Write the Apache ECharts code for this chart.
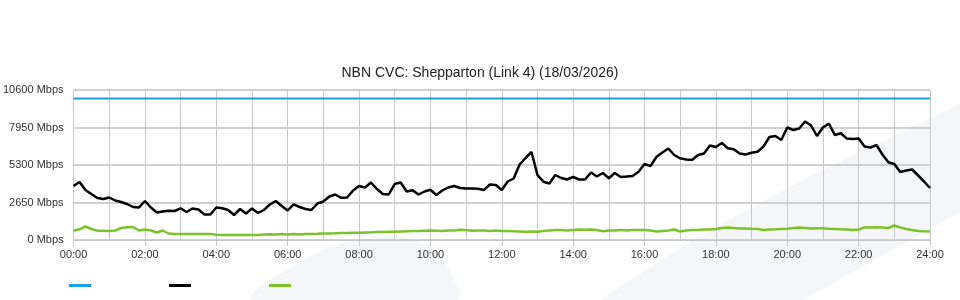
<!DOCTYPE html>
<html>
<head>
<meta charset="utf-8">
<script src="https://cdn.jsdelivr.net/npm/echarts@6/dist/echarts.min.js"></script>
<style>
html,body{margin:0;padding:0;background:#fff;}
#chart{width:960px;height:300px;}
</style>
</head>
<body>
<div id="chart"></div>
<script>
// Time categories every 10 minutes, 00:00 .. 24:00
const times = [];
for (let m = 0; m <= 1440; m += 10) {
  const h = Math.floor(m / 60), mm = m % 60;
  times.push(String(h).padStart(2, '0') + ':' + String(mm).padStart(2, '0'));
}
const yTicks = [0, 2650, 5300, 7950, 10600];
const capacity = 10000;
const download = [
  3816,4099,3533,3251,2968,2897,3003,2791,2685,2544,
  2332,2297,2756,2297,1943,2014,2071,2049,2240,1979,
  2226,2155,1802,1802,2297,2240,2120,1767,2191,1873,
  2226,1908,2120,2509,2756,2403,2085,2523,2332,2191,
  2120,2579,2721,3074,3215,2982,3003,3498,3816,3710,
  4063,3604,3251,3215,3957,4063,3427,3519,3215,3427,
  3547,3180,3498,3710,3816,3675,3639,3639,3618,3533,
  3922,3887,3533,4134,4346,5335,5795,6219,4593,4120,
  3993,4593,4381,4275,4452,4275,4275,4770,4487,4735,
  4360,4735,4452,4487,4523,4827,5371,5229,5865,6183,
  6466,6007,5773,5689,5653,6007,6113,6678,6572,6855,
  6480,6410,6113,6042,6162,6233,6607,7279,7349,7067,
  7950,7773,7879,8374,8091,7349,7950,8233,7420,7540,
  7173,7137,7173,6607,6537,6713,6042,5498,5371,4805,
  4911,4982,4558,4134,3675
];
const upload = [
  657,756,954,777,657,650,636,671,848,897,
  919,671,742,671,530,671,459,424,424,424,
  424,424,424,424,375,353,353,353,353,353,
  353,353,389,403,389,424,389,424,389,424,
  424,438,459,459,473,495,495,516,516,530,
  544,565,565,587,587,601,615,636,636,657,
  671,657,636,671,671,728,707,657,671,671,
  636,671,636,636,615,601,587,601,587,636,
  671,707,707,671,707,742,728,742,707,622,
  671,671,707,671,707,707,707,671,601,636,
  671,742,601,671,707,707,742,742,777,848,
  883,848,813,813,791,777,707,742,756,777,
  791,848,883,848,813,827,827,791,777,756,
  742,707,742,897,883,897,883,848,1025,883,
  777,707,636,615,601
];
const capacitySeries = times.map(() => capacity);

const FONT = '"Liberation Sans", Arial, sans-serif';
const chart = echarts.init(document.getElementById('chart'), null, {renderer: 'canvas'});
const mkLegend = (name, left) => ({
  data: [name], left: left, top: 284, padding: 0, icon: 'rect', itemWidth: 22, itemHeight: 3,
  formatter: () => '', selectedMode: false, textStyle: {fontSize: 1}
});
chart.setOption({
  animation: false,
  backgroundColor: '#ffffff',
  graphic: [
    {type: 'polygon', z: -10, silent: true,
     shape: {points: [[600,300],[693,240],[806,178],[960,104],[960,212],[910,240],[803,300]]},
     style: {fill: '#f5f6f8'}},
    {type: 'polygon', z: -10, silent: true,
     shape: {smooth: 0.4, points: [[253,300],[300,262],[350,242],[395,237],[428,246],[448,268],[456,300]]},
     style: {fill: '#f5f6f8'}}
  ],
  title: {
    text: 'NBN CVC: Shepparton (Link 4) (18/03/2026)',
    left: 'center', top: 61,
    textStyle: {fontFamily: FONT, fontSize: 14, fontWeight: 'normal', color: '#222'}
  },
  legend: [mkLegend('Capacity', 69), mkLegend('Download', 169), mkLegend('Upload', 269)],
  grid: {left: 70, right: 30, top: 90, bottom: 60, containLabel: false},
  xAxis: {
    type: 'category', data: times, boundaryGap: false,
    axisLine: {lineStyle: {color: '#c8c8c8', width: 1}},
    axisTick: {interval: 11, length: 6, lineStyle: {color: '#c8c8c8'}},
    axisLabel: {interval: 11, fontFamily: FONT, fontSize: 11, color: '#333', margin: 9},
    splitLine: {show: true, interval: 5, lineStyle: {color: '#c8c8c8', width: 1}}
  },
  yAxis: {
    type: 'value', min: yTicks[0], max: yTicks[yTicks.length - 1], interval: 2650,
    axisLine: {show: false}, axisTick: {show: false},
    axisLabel: {fontFamily: FONT, fontSize: 11, color: '#333', margin: 10,
      formatter: v => v + ' Mbps'},
    splitLine: {lineStyle: {color: '#c0c0c0', width: 1.5}}
  },
  series: [
    {name: 'Capacity', type: 'line', data: capacitySeries, showSymbol: false,
     lineStyle: {color: '#16a2e6', width: 2}, itemStyle: {color: '#16a2e6'}},
    {name: 'Download', type: 'line', data: download, showSymbol: false,
     lineStyle: {color: '#000000', width: 2.5}, itemStyle: {color: '#000000'}},
    {name: 'Upload', type: 'line', data: upload, showSymbol: false,
     lineStyle: {color: '#7cc22a', width: 2.5}, itemStyle: {color: '#7cc22a'}}
  ]
});
</script>
</body>
</html>
